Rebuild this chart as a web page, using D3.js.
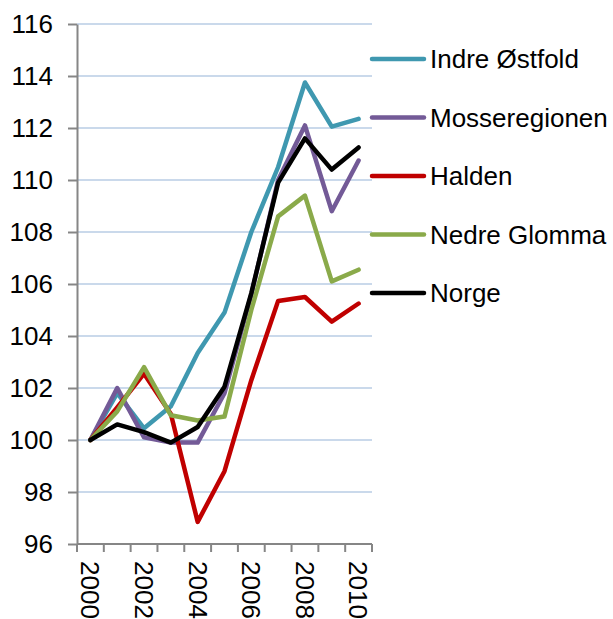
<!DOCTYPE html>
<html>
<head>
<meta charset="utf-8">
<script src="https://cdn.jsdelivr.net/npm/d3@7"></script>
<style>
  body { margin: 0; background: #fff; }
  text { font-family: Arial, "Liberation Sans", sans-serif; fill: #000; }
</style>
</head>
<body>
<div id="chart"></div>
<script>
// Data
const years = ["2000","2001","2002","2003","2004","2005","2006","2007","2008","2009","2010"];
const yTicks = [96, 98, 100, 102, 104, 106, 108, 110, 112, 114, 116];
const seriesNames = ["Indre Østfold", "Mosseregionen", "Halden", "Nedre Glomma", "Norge"];
const seriesColors = ["#3F98B0", "#735A97", "#C00000", "#8AAA4A", "#000000"];

const indreOstfold  = [100, 101.8, 100.45, 101.3, 103.35, 104.9, 108.0, 110.5, 113.75, 112.05, 112.35];
const mosseregionen = [100, 102.0, 100.1, 99.9, 99.9, 101.8, 105.6, 110.0, 112.1, 108.8, 110.75];
const halden        = [100, 101.25, 102.55, 101.0, 96.85, 98.8, 102.3, 105.35, 105.5, 104.55, 105.25];
const nedreGlomma   = [100, 101.1, 102.8, 100.95, 100.75, 100.9, 105.0, 108.6, 109.4, 106.1, 106.55];
const norge         = [100, 100.6, 100.3, 99.9, 100.5, 102.05, 105.65, 109.9, 111.6, 110.4, 111.25];
const seriesValues = [indreOstfold, mosseregionen, halden, nedreGlomma, norge];

const W = 613, H = 619;
const plot = { left: 77, right: 372, top: 24, bottom: 544 };
const fontSize = "26px";

const svg = d3.select("#chart").append("svg")
    .attr("width", W)
    .attr("height", H);

const x = d3.scaleBand()
    .domain(years)
    .range([plot.left, plot.right]);

const y = d3.scaleLinear()
    .domain([96, 116])
    .range([plot.bottom, plot.top]);

// Grid lines
svg.append("g")
    .selectAll("line")
    .data(yTicks.filter(d => d !== 96))
    .enter()
    .append("line")
    .attr("x1", plot.left)
    .attr("x2", plot.right)
    .attr("y1", d => y(d))
    .attr("y2", d => y(d))
    .attr("stroke", "#B9CDE5")
    .attr("stroke-width", 1.5);

// Y axis
const yAxis = svg.append("g")
    .attr("transform", `translate(${plot.left},0)`)
    .call(d3.axisLeft(y).tickValues(yTicks).tickSize(9).tickPadding(15).tickSizeOuter(0));
yAxis.select(".domain").attr("stroke", "#868686").attr("stroke-width", 2);
yAxis.selectAll(".tick line").attr("stroke", "#868686").attr("stroke-width", 2);
yAxis.selectAll(".tick text")
    .style("font-size", fontSize)
    .style("font-family", "Arial, 'Liberation Sans', sans-serif")
    .attr("fill", "#000");

// X axis: ticks between categories, labels on every other year
const xAxisG = svg.append("g")
    .attr("transform", `translate(0,${plot.bottom})`);
xAxisG.append("line")
    .attr("x1", plot.left)
    .attr("x2", plot.right)
    .attr("stroke", "#868686")
    .attr("stroke-width", 2);
const boundaries = years.map(d => x(d)).concat([x(years[years.length - 1]) + x.bandwidth()]);
xAxisG.selectAll(".xtick")
    .data(boundaries)
    .enter()
    .append("line")
    .attr("x1", d => d)
    .attr("x2", d => d)
    .attr("y1", 0)
    .attr("y2", 8)
    .attr("stroke", "#868686")
    .attr("stroke-width", 2);
xAxisG.selectAll(".xlabel")
    .data(years.filter((d, i) => i % 2 === 0))
    .enter()
    .append("text")
    .attr("transform", d => `translate(${x(d) + x.bandwidth() / 2},17) rotate(90)`)
    .attr("dy", "0.35em")
    .attr("text-anchor", "start")
    .style("font-size", fontSize)
    .text(d => d);

// Lines
const line = d3.line()
    .x((d, i) => x(years[i]) + x.bandwidth() / 2)
    .y(d => y(d));

svg.append("g")
    .selectAll("path")
    .data(seriesValues)
    .enter()
    .append("path")
    .attr("d", d => line(d))
    .attr("fill", "none")
    .attr("stroke", (d, i) => seriesColors[i])
    .attr("stroke-width", 4.5)
    .attr("stroke-linejoin", "round")
    .attr("stroke-linecap", "round");

// Legend
const legend = svg.append("g");
const legendItems = legend.selectAll("g")
    .data(seriesNames)
    .enter()
    .append("g")
    .attr("transform", (d, i) => `translate(372,${59 + i * 58.5})`);
legendItems.append("line")
    .attr("x1", 0)
    .attr("x2", 52)
    .attr("stroke", (d, i) => seriesColors[i])
    .attr("stroke-width", 4.5)
    .attr("stroke-linecap", "round");
legendItems.append("text")
    .attr("x", 58)
    .attr("dy", "0.35em")
    .style("font-size", fontSize)
    .text(d => d);
</script>
</body>
</html>
